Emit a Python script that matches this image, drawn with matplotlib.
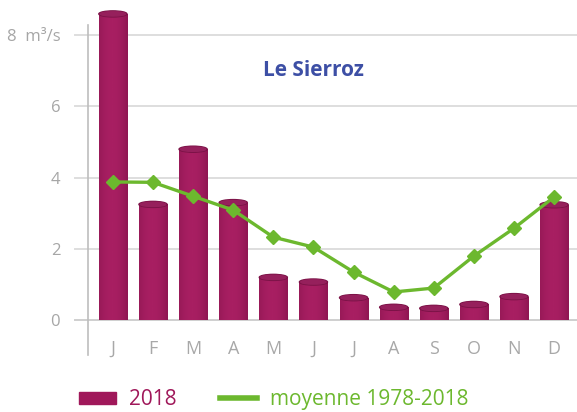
import matplotlib.pyplot as plt
import numpy as np
from matplotlib.patches import Ellipse, Patch
from matplotlib.lines import Line2D

# data
months = ['J', 'F', 'M', 'A', 'M', 'J', 'J', 'A', 'S', 'O', 'N', 'D']
debit_2018 = [8.6, 3.25, 4.8, 3.3, 1.2, 1.07, 0.63, 0.36, 0.33, 0.44, 0.66, 3.24]
moyenne = [3.88, 3.87, 3.48, 3.09, 2.33, 2.05, 1.35, 0.79, 0.9, 1.8, 2.58, 3.46]
yticks = [0, 2, 4, 6, 8]
ylabels = ['0', '2', '4', '6', '8  m³/s']

bar_col = '#8e1652'
green = '#6cb82e'
grey_txt = '#a6a6a6'
plt.rcParams['font.family'] = ['Open Sans', 'DejaVu Sans']

fig = plt.figure(figsize=(5.77, 4.12), dpi=100)
ax = fig.add_axes([88 / 577, 1 - 355 / 412, 489 / 577, 350 / 412])
ax.set_xlim(-0.62, 11.57)
ax.set_ylim(-0.98, 8.85)

x = np.arange(len(months))

# grid lines (stub to the left of the axis)
for v in yticks:
    ax.axhline(v, xmin=-0.027, xmax=1, color='#dedede' if v else '#cfcfcf',
               lw=1.4, clip_on=False, zorder=0)

# cylinder-like bars
grad = np.linspace(0, 1, 64)
shade = np.clip(1 - 1.6 * (grad - 0.45) ** 2, 0, 1).reshape(1, -1)
cmap = plt.matplotlib.colors.LinearSegmentedColormap.from_list(
    'cyl', ['#5e0c36', bar_col, '#a81f62'])
w = 0.7
bars = ax.bar(x, debit_2018, width=w, color=bar_col, zorder=2)
for b, v in zip(bars, debit_2018):
    im = ax.imshow(shade, cmap=cmap, aspect='auto', zorder=2.1,
                   extent=[b.get_x(), b.get_x() + w, 0, v], vmin=0, vmax=1)
    im.set_clip_path(b)
    ax.add_patch(Ellipse((b.get_x() + w / 2, v), w, 0.17,
                         color='#7a1246', zorder=2.2))
    ax.add_patch(Ellipse((b.get_x() + w / 2, v), w * 0.9, 0.12,
                         color='#96205c', zorder=2.3))
ax.set_xlim(-0.62, 11.57)
ax.set_ylim(-0.98, 8.85)

# mean line
ax.plot(x, moyenne, color=green, lw=2.4, marker='D', ms=7,
        markeredgecolor=green, zorder=4)

# axes style
for s in ['top', 'right', 'bottom']:
    ax.spines[s].set_visible(False)
ax.spines['left'].set_color('#bdbdbd')
ax.spines['left'].set_linewidth(1.2)
ax.spines['left'].set_bounds(-0.98, 8.29)
ax.set_xticks([])
ax.set_yticks(yticks)
ax.set_yticklabels(ylabels, fontsize=12, color=grey_txt)
ax.tick_params(axis='y', length=0, pad=20)

for i, m in enumerate(months):
    ax.text(i, -0.8, m, ha='center', va='center', fontsize=13,
            color='#a8a8a8')

ax.text(5.0, 7.0, 'Le Sierroz', ha='center', va='center', fontsize=15,
        weight='bold', color='#3d4fa5')

handles = [Patch(color='#a0185a'), Line2D([0], [0], color=green, lw=4)]
fig.legend(handles, ['2018', 'moyenne 1978-2018'], loc='center',
           bbox_to_anchor=(0.474, 0.03), ncol=2, frameon=False, fontsize=15,
           handlelength=1.8, handleheight=0.5, handletextpad=0.6,
           columnspacing=2.1, labelcolor=['#a0185a', green])

plt.savefig('out.png', dpi=100)
